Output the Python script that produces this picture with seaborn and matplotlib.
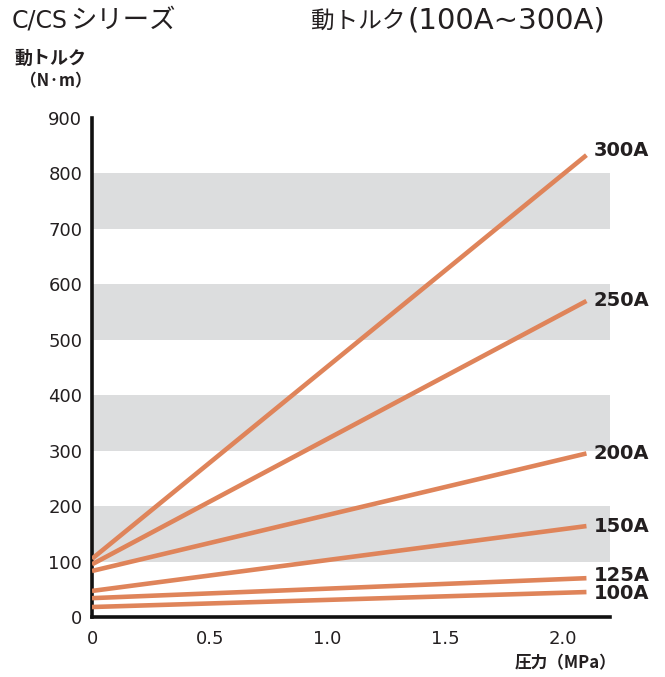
import numpy as np
import pandas as pd
import matplotlib
matplotlib.use('Agg')
import matplotlib.pyplot as plt
import seaborn as sns

# data: torque (N.m) at 0 MPa and 2.1 MPa for each size
sizes = ['100A', '125A', '150A', '200A', '250A', '300A']
pressure = [0.0, 2.1]
torque_start = [18, 34, 47, 83, 95, 105]
torque_end = [45, 70, 164, 295, 570, 833]
band_ranges = [(100, 200), (300, 400), (500, 600), (700, 800)]
xticks = [0, 0.5, 1.0, 1.5, 2.0]
xticklabels = ['0', '0.5', '1.0', '1.5', '2.0']
yticks = [0, 100, 200, 300, 400, 500, 600, 700, 800, 900]

rows = []
for s, a, b in zip(sizes, torque_start, torque_end):
    rows.append({'size': s, 'p': pressure[0], 't': a})
    rows.append({'size': s, 'p': pressure[1], 't': b})
df = pd.DataFrame(rows)

sns.set_style('white')
plt.rcParams['font.family'] = ['DejaVu Sans', 'Noto Sans CJK JP']

txt = '#231f20'
W, H = 665, 677
fig = plt.figure(figsize=(W / 100, H / 100), dpi=100)
ax = fig.add_axes([92 / W, 1 - 617 / H, 518 / W, (617 - 118) / H])

for lo, hi in band_ranges:
    ax.axhspan(lo, hi, color='#dcddde', lw=0, zorder=0)

line_color = '#df845a'
sns.lineplot(data=df, x='p', y='t', units='size', estimator=None,
             color=line_color, lw=3.3, ax=ax, zorder=3, solid_capstyle='butt')

# end labels, small nudges where they sit close together
nudge = {'300A': 8, '125A': 5, '100A': -3}
for s, b in zip(sizes, torque_end):
    ax.text(2.13, b + nudge.get(s, 0), s, fontsize=14, fontweight='bold',
            va='center', ha='left', color=txt, clip_on=False)

ax.set_xlim(0, 2.2)
ax.set_ylim(0, 900)
ax.set_xticks(xticks)
ax.set_xticklabels(xticklabels)
ax.set_yticks(yticks)
ax.tick_params(direction='in', length=6, width=2.5, labelsize=13,
               colors='#111111', labelcolor=txt)
ax.tick_params(axis='y', pad=7)
ax.tick_params(axis='x', pad=9)
for side in ['top', 'right']:
    ax.spines[side].set_visible(False)
for side in ['left', 'bottom']:
    ax.spines[side].set_linewidth(2.6)
    ax.spines[side].set_color('#111111')
ax.set_xlabel('')
ax.set_ylabel('')

# titles (latin and kana parts sized separately)
fig.text(12 / W, 1 - 21 / H, 'C/CS', fontsize=17, va='center', ha='left', color=txt)
fig.text(70 / W, 1 - 21 / H, 'シリーズ', fontsize=19, va='center', ha='left', color=txt)
fig.text(311 / W, 1 - 21 / H, '動トルク', fontsize=17, va='center', ha='left', color=txt)
fig.text(407 / W, 1 - 21 / H, '(100A~300A)', fontsize=21, va='center', ha='left', color=txt)
cjk = ['Noto Sans CJK JP', 'DejaVu Sans']
fig.text(14 / W, 1 - 58 / H, '動トルク', fontsize=13, fontweight='bold', va='center', ha='left',
         color=txt, family=cjk)
fig.text(20 / W, 1 - 81 / H, '（N·m）', fontsize=12, fontweight='bold', va='center', ha='left',
         color=txt, family=cjk)
fig.text(616 / W, 1 - 663 / H, '圧力（MPa）', fontsize=12, fontweight='bold', va='center', ha='right',
         color=txt, family=cjk)

plt.savefig('out.png', dpi=100)
